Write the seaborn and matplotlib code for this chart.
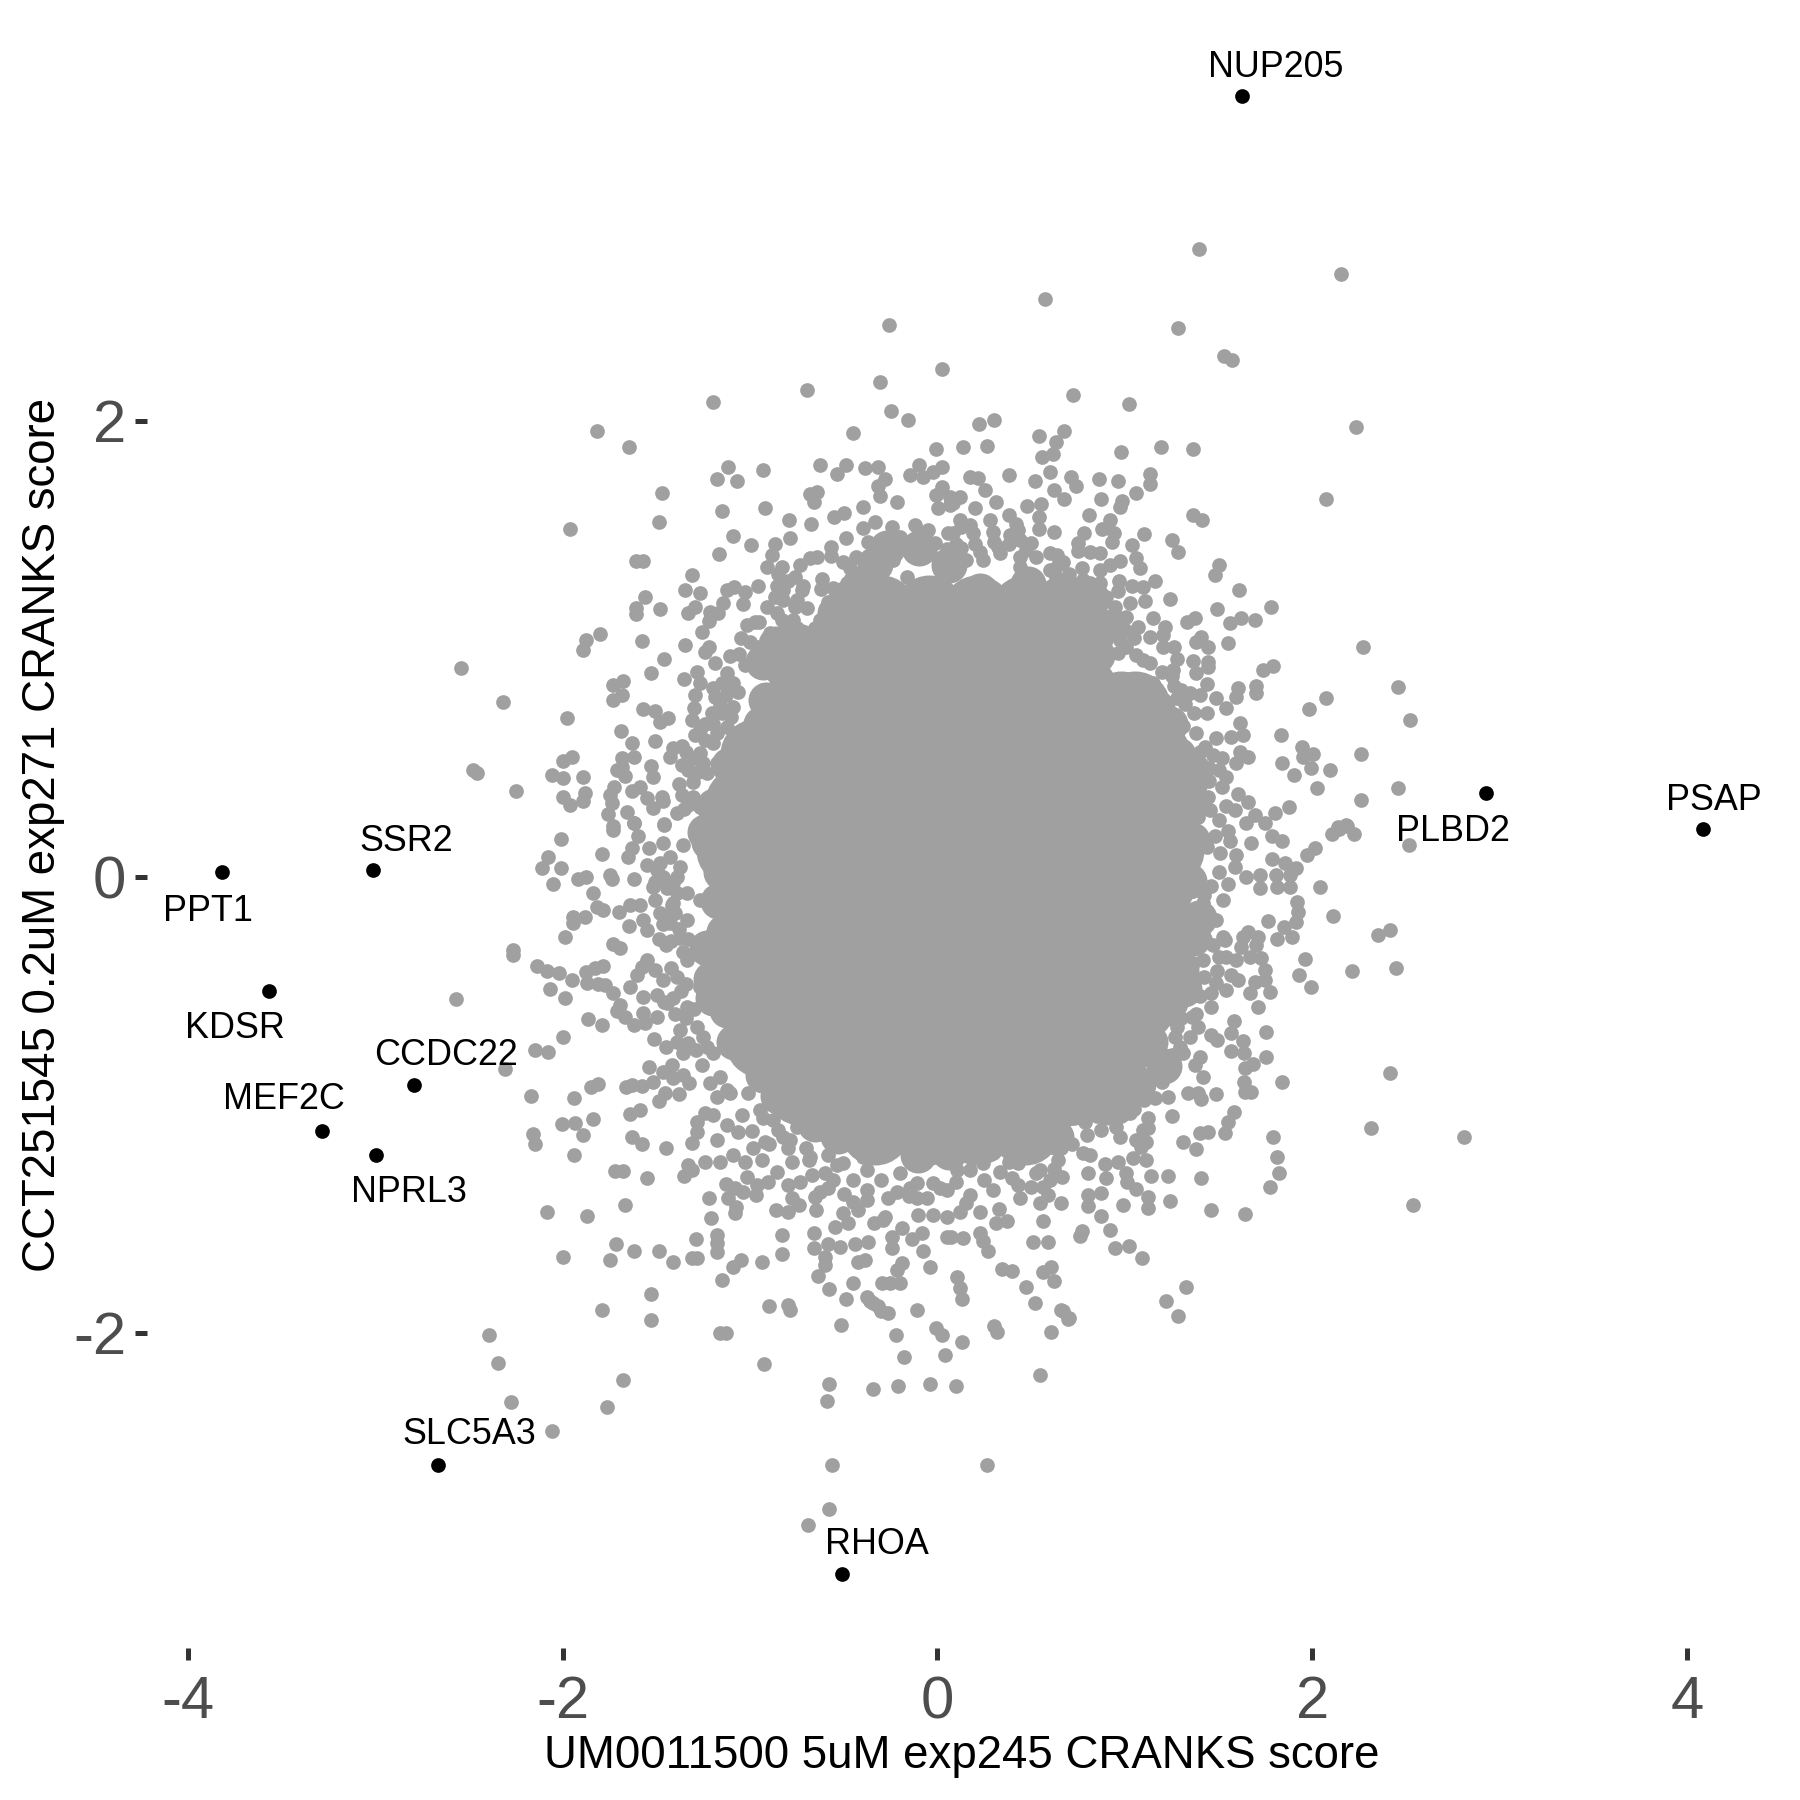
"""Scatter of CRANKS scores for two compounds, with the outlier genes labelled."""

import matplotlib
matplotlib.use("Agg")

import matplotlib.pyplot as plt
import pandas as pd
import seaborn as sns

# labelled genes
gene_names = ["NUP205", "PSAP", "PLBD2", "SSR2", "PPT1", "KDSR", "CCDC22", "MEF2C", "NPRL3", "SLC5A3", "RHOA"]
gene_x = [1.623, 4.086, 2.928, -3.014, -3.816, -3.565, -2.793, -3.283, -2.995, -2.665, -0.508]
gene_y = [3.426, 0.212, 0.368, 0.030, 0.020, -0.499, -0.912, -1.113, -1.219, -2.579, -3.058]
label_x = [1.807, 4.141, 2.749, -2.836, -3.895, -3.750, -2.620, -3.485, -2.818, -2.498, -0.325]
label_y = [3.551, 0.337, 0.201, 0.155, -0.152, -0.666, -0.782, -0.978, -1.386, -2.444, -2.928]

# grey points read one by one, by quadrant of the cloud
upper_left = [
    (-1.818,1.956),(-1.647,1.885),(-1.197,2.085),(-0.698,2.136),(-0.308,2.173),(-0.247,2.045),(-0.157,2.006),
    (-0.448,1.946),(-0.007,1.876),(-1.117,1.797),(-1.178,1.747),(-1.069,1.736),(-0.929,1.785),(-0.626,1.806),
    (-0.537,1.766),(-0.488,1.807),(-0.388,1.795),(-0.315,1.797),(-0.280,1.746),(-0.319,1.715),(-0.308,1.673),
    (-0.217,1.646),(-1.468,1.686),(-1.487,1.556),(-1.959,1.526),(-1.148,1.607),(-0.918,1.617),(-0.790,1.567),
    (-0.680,1.680),(-0.644,1.690),(-0.658,1.643),(-0.676,1.547),(-0.786,1.487),(-0.550,1.578),(-0.497,1.598),
    (-0.397,1.624),(-0.488,1.487),(-1.089,1.497),(-0.996,1.456),(-1.167,1.417),(-0.868,1.459),(-0.884,1.412),
    (-0.911,1.361),(-1.608,1.386),(-1.573,1.386),(-1.308,1.326),(-1.347,1.257),(-1.269,1.247),(-1.558,1.227),
    (-1.478,1.177),(-1.608,1.179),(-1.608,1.152),(-1.293,1.186),(-1.329,1.157),(-1.213,1.164),(-1.169,1.157),
    (-1.217,1.124),(-1.258,1.076),(-1.124,1.259),(-1.085,1.271),(-1.027,1.249),(-1.142,1.203),(-1.039,1.198),
    (-0.955,1.278),(-1.018,1.105),(-0.973,1.120),(-0.733,1.369),(-0.680,1.398),(-0.644,1.405),(-0.568,1.449),
    (-0.568,1.408),(-0.505,1.383),(-0.434,1.405),(-0.618,1.306),(-0.621,1.263),(-0.760,1.317),(-0.724,1.259),
    (-0.760,1.186),(-0.698,1.179),(-1.877,1.040),(-1.799,1.066),(-1.889,0.996),(-1.578,1.037),(-1.347,1.016),
    (-1.221,1.007),(-1.240,0.988),(-1.459,0.956),(-1.526,0.896),(-1.676,0.860),(-1.729,0.842),(-1.685,0.798),
    (-1.729,0.776),(-2.320,0.769),(-1.352,0.867),(-1.285,0.901),(-1.267,0.850),(-1.187,0.940),(-1.107,0.969),
    (-1.057,0.978),(-1.027,0.930),(-1.124,0.893),(-1.089,0.850),(-1.062,0.813),(-1.293,0.798),(-1.187,0.788),
    (-1.299,0.740),(-1.160,0.755),(-1.204,0.718),(-1.569,0.737),(-1.507,0.730),(-1.436,0.696),(-1.480,0.681),
    (-1.978,0.697),(-1.688,0.639),(-1.628,0.586),(-1.507,0.598),(-1.311,0.689),(-1.267,0.645),(-1.293,0.623),
    (-1.196,0.586),(-1.107,0.579),(-1.409,0.564),(-1.365,0.575),(-1.427,0.525),(-1.617,0.528),(-1.685,0.521),
    (-1.948,0.528),(-1.999,0.509),(-1.528,0.488),(-1.365,0.491),(-1.685,0.484),(-1.711,0.467),(-1.667,0.443),
    (-2.058,0.446),(-1.996,0.433),(-1.889,0.437),(-1.518,0.437),(-1.379,0.408),(-1.302,0.418),(-2.249,0.377),
    (-1.726,0.393),(-1.747,0.360),(-1.738,0.323),(-1.628,0.379),(-1.587,0.396),(-1.880,0.370),(-1.889,0.331),
    (-1.999,0.350),(-1.960,0.316),(-1.551,0.345),(-1.471,0.350),(-1.516,0.301),(-1.466,0.331),(-1.365,0.360),
    (-1.329,0.316),(-1.391,0.280),(-1.759,0.276),(-1.658,0.287),(-1.619,0.238),(-1.729,0.224),(-1.459,0.233),
    (-0.333,1.559),(-0.244,1.537),(-0.120,1.544),(-0.395,1.529),(-0.368,1.471),(-0.075,1.500),(-0.013,1.464),
    (0.058,1.507),(-0.146,1.763),(-0.096,1.807),(-0.078,1.756),(-0.022,1.778),(0.023,1.800),(0.026,1.712),
    (-0.007,1.676),(0.001,1.617),(0.067,1.632),(-0.466,1.354),(-0.484,1.288),(-0.555,1.266),(-0.582,1.208),
    (-0.751,1.091),(-0.867,1.230),(-0.822,1.259),(-0.395,1.244),(-0.377,1.186),(-0.831,1.127),(-0.893,1.069),
    (-0.653,1.091),(-0.502,1.127),
]
upper_right = [
    (0.722,2.116),(1.023,2.076),(0.223,1.986),(0.303,2.005),(2.232,1.975),(0.134,1.885),(0.262,1.892),(0.541,1.936),
    (0.673,1.956),(0.632,1.907),(0.617,1.855),(0.560,1.844),(0.982,1.866),(1.192,1.885),(1.363,1.876),(0.383,1.765),
    (0.521,1.736),(0.601,1.775),(0.712,1.756),(0.742,1.715),(0.861,1.746),(0.961,1.736),(1.133,1.766),(1.133,1.724),
    (1.062,1.686),(0.621,1.698),(0.673,1.657),(0.872,1.657),(0.987,1.649),(0.973,1.624),(2.072,1.657),(0.480,1.627),
    (0.552,1.636),(0.541,1.578),(0.541,1.526),(0.621,1.515),(0.811,1.586),(0.923,1.566),(0.879,1.525),(0.941,1.510),
    (0.930,1.467),(0.783,1.507),(0.751,1.464),(0.751,1.431),(0.813,1.427),(0.866,1.420),(1.103,1.506),(1.041,1.458),
    (1.062,1.401),(1.083,1.354),(1.363,1.588),(1.413,1.566),(1.252,1.477),(1.283,1.426),(1.503,1.370),(1.482,1.325),
    (1.612,1.257),(1.782,1.186),(1.493,1.177),(1.694,1.127),(1.622,1.138),(1.560,1.116),(1.373,1.138),(1.332,1.117),
    (1.240,1.217),(1.163,1.297),(1.098,1.271),(1.041,1.278),(0.970,1.298),(0.973,1.386),(0.920,1.369),(0.866,1.347),
    (0.774,1.354),(0.671,1.383),(0.639,1.410),(0.964,1.256),(1.110,1.212),(1.030,1.200),(0.950,1.186),(1.151,1.135),
    (1.213,1.098),(1.204,1.062),(1.009,1.142),(1.071,1.098),(1.409,1.054),(1.382,1.032),(1.445,1.007),(1.551,1.026),
    (2.273,1.007),(1.263,1.010),(1.276,0.955),(1.204,1.010),(1.363,0.949),(1.445,0.945),(1.445,0.920),(1.382,0.893),
    (1.258,0.908),(1.791,0.927),(1.740,0.908),(2.458,0.835),(0.973,1.040),(1.000,1.084),(0.964,0.981),(1.062,0.974),
    (1.133,0.937),(1.441,0.847),(1.261,0.839),(1.702,0.839),(1.702,0.809),(1.605,0.828),(1.596,0.791),(1.347,0.806),
    (1.400,0.798),(1.484,0.787),(2.072,0.787),(1.982,0.737),(1.281,0.784),(1.542,0.740),(1.436,0.718),(1.613,0.674),
    (1.631,0.623),(1.569,0.616),(1.489,0.608),(1.836,0.623),(1.943,0.569),(2.005,0.540),(1.841,0.499),(1.951,0.528),
    (1.996,0.477),(1.903,0.445),(2.094,0.468),(2.263,0.538),(2.023,0.388),(2.263,0.338),(2.458,0.389),(1.658,0.525),
    (1.613,0.550),(1.596,0.499),(1.516,0.521),(1.427,0.572),(1.471,0.535),(1.542,0.440),(1.516,0.396),(1.445,0.352),
    (1.605,0.364),(1.658,0.328),(1.542,0.313),(1.587,0.294),(1.875,0.309),(1.804,0.279),(1.694,0.272),(1.747,0.236),
    (1.649,0.236),(1.453,0.294),(1.391,0.265),(2.138,0.221),(2.183,0.228),(0.173,1.756),(0.217,1.749),(0.253,1.698),
    (0.315,1.646),(0.199,1.617),(0.279,1.566),(0.119,1.566),(0.173,1.544),(0.383,1.588),(0.297,1.515),(0.386,1.500),
    (0.431,1.522),(0.502,1.464),(0.324,1.449),(0.226,1.427),(0.128,1.442),(0.644,1.369),(0.689,1.295),(0.813,1.288),
    (0.751,1.230),(0.680,1.149),(0.866,1.127),(0.902,1.040),
]
lower_left = [
    (-2.008,0.168),(-2.076,0.089),(-2.108,0.038),(-2.008,0.038),(-2.049,-0.031),(-1.788,0.099),(-1.729,0.206),
    (-1.617,0.235),(-1.459,0.228),(-1.599,0.180),(-1.631,0.126),(-1.653,0.086),(-1.537,0.126),(-1.462,0.148),
    (-1.356,0.140),(-1.747,0.009),(-1.738,-0.010),(-1.916,-0.010),(-1.875,0.001),(-1.617,-0.010),(-1.551,0.053),
    (-1.427,0.089),(-1.373,0.045),(-1.409,-0.028),(-1.516,-0.042),(-1.836,-0.072),(-1.818,-0.130),(-1.783,-0.145),
    (-1.699,-0.152),(-1.640,-0.123),(-1.587,-0.123),(-1.507,-0.101),(-1.418,-0.123),(-1.946,-0.174),(-1.880,-0.174),
    (-1.946,-0.203),(-1.647,-0.213),(-1.569,-0.189),(-1.551,-0.232),(-1.462,-0.206),(-1.987,-0.262),(-1.487,-0.272),
    (-1.373,-0.269),(-1.729,-0.294),(-1.694,-0.313),(-2.266,-0.320),(-2.266,-0.342),(-2.138,-0.390),(-2.085,-0.411),
    (-2.017,-0.423),(-1.948,-0.452),(-1.875,-0.415),(-1.827,-0.401),(-1.783,-0.389),(-1.868,-0.466),(-1.809,-0.469),
    (-1.774,-0.474),(-1.729,-0.510),(-2.067,-0.491),(-1.987,-0.531),(-1.694,-0.561),(-1.708,-0.586),(-1.667,-0.613),
    (-1.866,-0.621),(-1.788,-0.651),(-1.617,-0.649),(-1.551,-0.364),(-1.578,-0.393),(-1.507,-0.408),(-1.605,-0.430),
    (-1.640,-0.481),(-1.462,-0.452),(-1.569,-0.525),(-1.498,-0.518),(-1.445,-0.554),(-1.560,-0.642),(-1.498,-0.613),
    (-1.569,-0.598),(-1.996,-0.702),(-2.149,-0.759),(-2.076,-0.770),(-1.512,-0.709),(-1.450,-0.744),(-1.373,-0.671),
    (-1.391,-0.722),(-1.356,-0.773),(-1.258,-0.825),(-1.196,-0.773),(-1.537,-0.832),(-1.418,-0.825),(-1.462,-0.854),
    (-1.356,-0.868),(-1.325,-0.905),(-1.409,-0.883),(-1.516,-0.898),(-1.578,-0.915),(-1.631,-0.912),(-1.662,-0.920),
    (-1.379,-0.952),(-1.454,-0.949),(-1.487,-0.981),(-1.813,-0.909),(-1.850,-0.920),(-2.167,-0.961),(-1.939,-0.971),
    (-1.587,-1.022),(-1.640,-1.041),(-1.839,-1.061),(-2.001,-1.082),(-1.934,-1.080),(-1.889,-1.130),(-2.160,-1.127),
    (-2.149,-1.171),(-1.628,-1.139),(-1.578,-1.171),(-1.448,-1.190),(-1.939,-1.221),(-1.720,-1.288),(-1.676,-1.288),
    (-1.548,-1.320),(-2.085,-1.469),(-1.868,-1.488),(-1.667,-1.440),(-1.219,-1.408),(-1.208,-1.497),(-1.178,-1.570),
    (-1.178,-1.607),(-1.178,-1.643),(-1.290,-1.589),(-1.717,-1.608),(-1.617,-1.640),(-1.487,-1.639),(-1.409,-1.690),
    (-1.311,-1.670),(-1.281,-1.670),(-1.747,-1.680),(-1.998,-1.668),(-1.048,-1.680),(-1.089,-1.709),(-0.938,-1.690),
    (-1.148,-1.769),(-0.831,-1.570),(-0.831,-1.654),(-1.528,-1.829),(-1.788,-1.899),(-1.528,-1.943),(-0.897,-1.880),
    (-0.795,-1.877),(-0.786,-1.899),(-0.658,-1.560),(-0.658,-1.629),(-0.582,-1.610),(-0.520,-1.621),(-0.600,-1.665),
    (-0.600,-1.702),(-0.639,-1.749),(-0.577,-1.808),(-0.449,-1.779),(-0.488,-1.851),(-0.360,-1.860),(-0.315,-1.882),
    (-0.262,-1.911),(-0.297,-1.779),(-0.200,-1.779),(-0.107,-1.899),(-0.440,-1.610),(-0.369,-1.599),(-0.244,-1.629),
    (-0.386,-1.680),(-0.422,-1.691),(-0.191,-1.694),(-0.217,-1.724),(-0.137,-1.589),(-0.084,-1.560),(-0.075,-1.639),
    (-0.039,-1.709),(0.049,-1.578),(-0.025,-1.482),(-0.102,-1.482),(0.049,-1.490),(-0.191,-1.541),(-0.244,-1.578),
    (-0.338,-1.519),(-0.280,-1.490),(-0.546,-1.534),(-0.475,-1.519),(-0.505,-1.475),(-0.648,-1.461),(-0.653,-1.402),
    (-0.626,-1.380),(-0.582,-1.366),(-0.555,-1.329),(-0.497,-1.390),(-0.422,-1.461),(-0.377,-1.417),(-0.449,-1.424),
    (-0.262,-1.409),(-0.217,-1.380),(-0.146,-1.366),(-0.110,-1.409),(-0.057,-1.409),(0.014,-1.366),(-0.738,-1.441),
    (-0.795,-1.468),(-0.861,-1.461),(-0.778,-1.409),(-0.795,-1.351),(-0.733,-1.336),(-0.667,-1.307),(-0.683,-1.241),
    (-0.778,-1.249),(-0.858,-1.292),(-0.902,-1.336),(-0.964,-1.351),(-0.968,-1.395),(-1.035,-1.384),(-1.080,-1.366),
    (-1.128,-1.348),(-1.116,-1.409),(-1.076,-1.446),(-1.080,-1.472),(-1.018,-1.314),(-1.027,-1.249),(-0.938,-1.241),
    (-1.160,-1.249),(-1.240,-1.249),(-1.329,-1.263),(-1.311,-1.285),(-1.352,-1.311),(-1.308,-1.168),(-1.285,-1.117),
    (-1.285,-1.073),(-1.240,-1.037),(-1.196,-1.044),(-1.178,-1.153),(-1.124,-1.088),(-1.062,-1.117),(-0.991,-1.113),
    (-0.920,-1.161),(-0.982,-1.190),(-1.089,-1.219),(-0.822,-1.139),(-0.795,-1.190),(-0.929,-1.058),(-0.751,-1.095),
    (-1.041,-1.044),(-1.107,-0.949),(-1.009,-0.949),(-1.213,-0.905),(-1.178,-0.963),(-0.582,-1.219),(-0.537,-1.263),
    (-0.395,-1.227),
]
lower_right = [
    (2.103,0.189),(2.144,0.209),(2.186,0.224),(2.224,0.187),(2.014,0.129),(1.973,0.096),(1.916,0.038),(1.854,0.060),
    (1.788,0.077),(1.783,0.181),(1.839,0.158),(1.672,0.148),(1.560,0.159),(1.596,0.096),(1.507,0.104),(1.587,0.045),
    (1.649,0.001),(1.720,0.009),(1.809,0.009),(1.720,-0.050),(1.813,-0.042),(1.884,-0.042),(1.880,0.009),(2.044,-0.042),
    (1.921,-0.108),(1.925,-0.152),(1.916,-0.196),(2.113,-0.173),(1.763,-0.192),(1.850,-0.221),(1.894,-0.262),(1.813,-0.273),
    (2.352,-0.254),(2.414,-0.232),(1.658,-0.240),(1.711,-0.262),(1.631,-0.262),(1.702,-0.298),(1.622,-0.306),(1.729,-0.357),
    (1.667,-0.349),(1.596,-0.364),(1.542,-0.349),(1.533,-0.276),(1.964,-0.361),(1.932,-0.430),(1.992,-0.481),(2.213,-0.411),
    (2.449,-0.401),(1.747,-0.408),(1.747,-0.452),(1.694,-0.459),(1.774,-0.503),(1.667,-0.510),(1.711,-0.572),(1.605,-0.452),
    (1.569,-0.430),(1.493,-0.411),(1.489,-0.466),(1.542,-0.496),(1.462,-0.510),(1.462,-0.572),(1.581,-0.630),(1.569,-0.686),
    (1.752,-0.681),(1.462,-0.693),(1.494,-0.715),(1.631,-0.719),(1.564,-0.762),(1.635,-0.773),(1.752,-0.791),(1.685,-0.820),
    (1.640,-0.839),(1.418,-0.879),(1.635,-0.898),(1.640,-0.942),(1.676,-0.942),(1.841,-0.901),(2.414,-0.861),(1.484,-0.952),
    (1.400,-0.788),(1.373,-0.825),(1.361,-0.613),(1.391,-0.656),(1.276,-0.656),(1.293,-0.744),(1.391,-0.949),(1.409,-0.975),
    (1.338,-0.949),(1.231,-0.963),(1.160,-0.971),(1.583,-1.031),(1.551,-1.073),(1.533,-1.121),(1.445,-1.117),(1.400,-1.121),
    (1.252,-1.050),(1.124,-1.056),(1.124,-1.102),(1.311,-1.161),(1.382,-1.192),(1.791,-1.140),(1.813,-1.230),(1.823,-1.300),
    (1.774,-1.360),(2.313,-1.101),(1.404,-1.320),(1.233,-1.310),(1.142,-1.310),(1.009,-1.300),(1.012,-1.336),(0.902,-1.322),
    (0.893,-1.259),(0.961,-1.249),(0.804,-1.300),(0.777,-1.212),(0.813,-1.219),(1.044,-1.234),(1.115,-1.241),(1.089,-1.183),
    (1.115,-1.161),(1.062,-1.153),(0.973,-1.139),(1.098,-1.110),(1.026,-1.037),(0.955,-1.095),(0.875,-1.110),(0.786,-1.073),
    (0.724,-1.058),(0.902,-1.007),(1.062,-1.370),(1.124,-1.406),(1.124,-1.450),(1.240,-1.420),(1.462,-1.461),(1.644,-1.480),
    (0.991,-1.440),(0.872,-1.387),(0.801,-1.395),(0.801,-1.443),(0.662,-1.431),(0.667,-1.317),(0.872,-1.488),(0.920,-1.550),
    (0.772,-1.551),(0.760,-1.573),(0.950,-1.629),(1.023,-1.620),(1.092,-1.670),(0.562,-1.509),(0.511,-1.601),(0.592,-1.601),
    (0.608,-1.709),(0.564,-1.731),(0.621,-1.772),(0.342,-1.719),(0.400,-1.730),(0.472,-1.798),(0.523,-1.870),(0.662,-1.899),
    (0.703,-1.936),(1.324,-1.800),(1.222,-1.858),(1.283,-1.924),(0.102,-1.756),(0.119,-1.804),(0.132,-1.851),(0.315,-1.519),
    (0.372,-1.510),(0.271,-1.639),(0.226,-1.560),(0.134,-1.585),(0.075,-1.578),(0.244,-1.595),(0.329,-1.456),(0.226,-1.468),
    (0.119,-1.468),(0.297,-1.373),(0.173,-1.395),(0.440,-1.409),(0.546,-1.431),(0.591,-1.395),(0.528,-1.300),(0.431,-1.351),
    (0.333,-1.292),(0.244,-1.256),(0.431,-1.256),(0.644,-1.241),(0.662,-1.190),(0.680,-1.139),(0.324,-1.153),(0.475,-1.212),
    (0.564,-1.190),(0.102,-1.285),
]
# isolated points outside the crops above
stragglers = [
    (1.397,2.756),(2.156,2.645),(0.576,2.534),(-0.257,2.423),(1.286,2.408),(1.531,2.287),(1.574,2.267),(0.025,2.227),
    (-2.542,0.917),(-2.481,0.469),(-2.456,0.458),(-2.567,-0.534),(-2.309,-0.841),(-2.395,-2.010),(-2.346,-2.131),
    (-2.273,-2.302),(-2.058,-2.428),(-1.764,-2.327),(-1.678,-2.207),(2.524,0.690),(2.518,0.141),(2.812,-1.139),
    (2.536,-1.441),(-0.925,-2.136),(-1.127,-2.000),(-1.158,-2.000),(-0.576,-2.222),(-0.588,-2.297),(-0.343,-2.247),
    (-0.208,-2.232),(-0.037,-2.222),(0.098,-2.232),(-0.178,-2.106),(0.043,-2.096),(0.129,-2.040),(0.300,-1.970),
    (0.319,-1.995),(-0.006,-1.980),(0.025,-2.010),(-0.221,-2.010),(-0.515,-1.965),(-0.300,-1.904),(-0.374,-1.844),
    (-0.343,-1.869),(-0.251,-1.783),(0.545,-2.186),(0.698,-1.940),(0.668,-1.904),(0.606,-1.995),(-0.564,-2.579),
    (0.263,-2.579),(-0.576,-2.771),(-0.692,-2.841),
]
# overlapping points in the dense band just outside the solid centre
dense_band = [
    (-0.858,1.274),(-0.822,1.215),(-0.911,1.186),(-0.858,1.157),(-0.715,1.274),(-0.751,1.215),(-0.769,1.127),(-0.591,1.171),
    (-0.626,1.127),(-0.466,1.244),(-0.502,1.157),(-0.431,1.142),(-0.324,1.361),(-0.235,1.390),(-0.164,1.317),(-0.377,1.347),
    (-0.199,1.493),(-0.271,1.449),(-0.128,1.478),(-0.040,1.420),(0.032,1.390),(-0.288,1.274),(-0.110,1.274),(-0.964,1.010),
    (-0.964,0.908),(-0.929,0.820),(-1.089,0.747),(-1.124,0.659),(-1.018,0.659),(-1.178,0.630),(-1.267,0.543),(-1.178,0.499),
    (-1.231,0.455),(-1.302,0.352),(-1.267,0.309),(0.066,1.668),(0.119,1.668),(0.084,1.639),(0.128,1.537),(0.190,1.507),
    (0.084,1.507),(0.244,1.391),(0.155,1.391),(0.333,1.420),(0.440,1.478),(0.475,1.434),(0.528,1.405),(0.440,1.405),
    (0.440,1.361),(0.635,1.317),(0.600,1.347),(0.777,1.303),(0.866,1.288),(0.760,1.200),(0.831,1.171),(0.884,1.127),
    (0.991,1.127),(1.133,1.054),(1.098,0.952),(1.009,1.010),(1.204,0.776),(1.062,0.864),(1.311,0.660),(1.382,0.630),
    (1.311,0.572),(1.418,0.455),(1.347,0.455),(1.418,0.309),(1.276,0.279),(1.418,-0.115),(1.525,-0.101),(1.489,-0.189),
    (1.365,-0.203),(1.525,-0.262),(1.365,-0.379),(1.418,-0.364),(1.347,-0.466),(1.311,-0.539),(1.347,-0.700),(1.311,-0.773),
    (1.240,-0.861),(1.169,-0.876),(1.062,-0.920),(0.955,-0.978),(0.777,-1.022),(0.635,-1.139),(0.546,-1.285),(0.564,-1.358),
    (0.297,-1.212),(0.173,-1.285),(0.422,-1.183),(-1.480,0.060),(-1.391,0.001),(-1.338,-0.072),(-1.409,-0.115),(-1.267,-0.101),
    (-1.338,-0.189),(-1.427,-0.203),(-1.338,-0.364),(-1.391,-0.437),(-1.267,-0.481),(-1.338,-0.569),(-1.285,-0.656),
    (-1.231,-0.744),(-1.160,-0.876),(-1.124,-0.934),(-0.947,-1.022),(-0.875,-1.066),(-0.786,-1.153),(-0.680,-1.227),
    (-0.502,-1.256),(-0.377,-1.285),(-0.200,-1.300),(-0.377,-1.373),(-0.110,-1.344),(-0.022,-1.344),(0.049,-1.373),(-0.288,-1.504),
    (-1.498,0.031),(-1.462,0.000),(-1.507,-0.020),(-1.445,-0.050),(-1.391,-0.070),(-1.480,-0.160),(-1.445,-0.170),(-1.400,-0.160),
    (-1.380,-0.230),(-1.420,-0.280),(-1.450,-0.300),(-1.330,-0.270),(-1.360,-0.330),(-1.420,-0.400),(-1.460,-0.550),(-1.410,-0.530),
    (-1.370,-0.500),(-1.340,-0.470),(-1.400,-0.600),(-1.340,-0.620),(-1.300,-0.580),(-1.330,-0.730),(-1.290,-0.760),(-1.250,-0.700),
    (-1.200,0.830),(-1.150,0.850),(-1.130,0.800),(-1.240,0.670),(-1.200,0.670),(-1.240,0.600),(-1.150,0.720),(-1.100,0.700),
    (-1.340,0.550),(-1.300,0.520),(-1.250,0.500),(-1.330,0.470),(-1.280,0.460),(-1.350,0.300),(-1.050,1.050),(-1.000,1.030),
    (-0.950,1.120),(-0.850,1.330),(-0.800,1.300),(-0.830,1.360),(1.250,0.880),(1.300,0.820),(1.200,0.900),(1.150,0.850),
    (1.320,0.760),(1.370,0.720),(1.400,0.550),(1.380,0.500),(1.450,0.480),(1.500,0.470),(1.450,0.420),(1.400,0.400),
    (1.350,0.380),(1.500,0.250),(1.550,0.200),(1.480,0.180),(1.440,0.130),(1.500,0.020),(1.550,-0.030),(1.460,-0.040),
    (1.420,-0.080),(1.470,-0.300),(1.430,-0.270),(1.500,-0.350),(1.420,-0.440),(1.400,-0.520),(1.380,-0.600),(1.300,-0.620),
    (1.270,-0.700),(1.250,-0.780),(1.200,-0.900),(1.100,-0.980),(1.050,-1.020),(0.980,-1.050),(0.850,-1.050),(0.800,-1.130),
    (0.720,-1.170),(0.620,-1.280),(0.600,-1.330),(0.500,-1.360),(0.400,-1.320),(0.380,-1.250),(0.300,1.470),(0.380,1.460),
    (0.420,1.550),(0.200,1.460),(0.100,1.460),(0.050,1.440),(-0.050,1.520),(0.600,1.420),(0.700,1.330),(0.900,1.230),
    (0.950,1.150),(1.050,1.050),(-0.850,-1.110),(-0.900,-1.170),(-0.700,-1.190),(-0.600,-1.300),(-0.450,-1.330),(-0.300,-1.330),
    (-0.150,-1.400),(0.100,-1.340),(0.250,-1.330),(0.150,-1.430),
]

# merged centre of the cloud: single points can't be read here, so wide dots cover its area row by row
core_rows = [1.171, 0.961, 0.750, 0.539, 0.329, 0.118, -0.092, -0.303, -0.513, -0.724, -0.934, -1.110]
core_cols = [
    [-0.413, -0.301, -0.045, 0.211, 0.467, 0.680],
    [-0.760, -0.557, -0.301, -0.045, 0.211, 0.467, 0.680],
    [-0.760, -0.557, -0.301, -0.045, 0.211, 0.467, 0.723, 0.979, 1.055],
    [-0.974, -0.813, -0.557, -0.301, -0.045, 0.211, 0.467, 0.723, 0.979, 1.160],
    [-1.053, -0.813, -0.557, -0.301, -0.045, 0.211, 0.467, 0.723, 0.979, 1.235],
    [-1.100, -0.813, -0.557, -0.301, -0.045, 0.211, 0.467, 0.723, 0.979, 1.235],
    [-1.027, -0.813, -0.557, -0.301, -0.045, 0.211, 0.467, 0.723, 0.979, 1.160],
    [-1.069, -0.813, -0.557, -0.301, -0.045, 0.211, 0.467, 0.723, 0.979, 1.190],
    [-1.060, -0.813, -0.557, -0.301, -0.045, 0.211, 0.467, 0.723, 0.979, 1.160],
    [-0.947, -0.813, -0.557, -0.301, -0.045, 0.211, 0.467, 0.723, 0.979],
    [-0.734, -0.557, -0.301, -0.045, 0.211, 0.467, 0.723, 0.921],
    [-0.333, -0.045, 0.211, 0.467],
]
# medium dots tracing the outline of the solid centre
core_edge = [
    (-1.240,0.197),(-1.192,0.311),(-1.112,0.491),(-0.973,0.557),(-0.941,0.671),(-0.915,0.776),(-0.930,0.943),(-0.861,1.022),
    (-0.744,1.022),(-0.594,1.057),(-0.546,1.158),(-0.445,1.232),(-0.413,1.285),(-0.333,1.373),(-0.269,1.443),(-0.098,1.443),
    (0.062,1.368),(0.227,1.254),(0.483,1.285),(0.649,1.206),(0.825,1.219),(0.884,1.096),(0.852,0.974),(0.846,0.864),
    (1.103,0.811),(1.172,0.741),(1.241,0.671),(1.284,0.535),(1.364,0.465),(1.359,0.329),(1.306,0.193),(1.359,0.162),
    (1.343,-0.018),(1.268,-0.066),(1.396,-0.180),(1.364,-0.268),(1.300,-0.408),(1.316,-0.491),(1.151,-0.614),(1.135,-0.724),
    (1.209,-0.829),(1.070,-0.908),(0.814,-0.925),(0.649,-1.031),(0.633,-1.140),(0.281,-1.132),(0.163,-1.132),(0.062,-1.118),
    (0.062,-1.206),(-0.104,-1.219),(-0.354,-1.132),(-0.530,-1.136),(-0.653,-1.083),(-0.653,-1.004),(-0.851,-0.961),
    (-0.931,-0.868),(-0.984,-0.785),(-1.085,-0.724),(-1.122,-0.583),(-1.200,-0.531),(-1.210,-0.447),(-1.230,-0.311),
    (-1.139,-0.241),(-1.171,-0.105),(-1.155,0.022),(-1.220,0.154),
]

x_ticks = [-4, -2, 0, 2, 4]
y_ticks = [-2, 0, 2]
x_title = "UM0011500 5uM exp245 CRANKS score"
y_title = "CCT251545 0.2uM exp271 CRANKS score"
GREY = "#A0A0A0"

sns.set_theme(style="white")
plt.rcParams["font.family"] = ["Liberation Sans", "DejaVu Sans"]

grey_df = pd.DataFrame(
    upper_left + upper_right + lower_left + lower_right + stragglers + dense_band,
    columns=["x", "y"],
)
core_df = pd.DataFrame(
    [(x, y) for y, row in zip(core_rows, core_cols) for x in row],
    columns=["x", "y"],
)
edge_df = pd.DataFrame(core_edge, columns=["x", "y"])
gene_df = pd.DataFrame({"x": gene_x, "y": gene_y})

fig = plt.figure(figsize=(18, 18), dpi=100)
ax = fig.add_axes([147 / 1800, 1 - 1648 / 1800, 1629 / 1800, 1626 / 1800])

sns.scatterplot(data=core_df, x="x", y="y", s=2540, color=GREY, linewidth=0, ax=ax)
sns.scatterplot(data=edge_df, x="x", y="y", s=672, color=GREY, linewidth=0, ax=ax)
sns.scatterplot(data=grey_df, x="x", y="y", s=112, color=GREY, linewidth=0, ax=ax)
sns.scatterplot(data=gene_df, x="x", y="y", s=112, color="black", linewidth=0, ax=ax)

for name, lx, ly in zip(gene_names, label_x, label_y):
    ax.text(lx, ly, name, fontsize=25.8, color="black", ha="center", va="center")

ax.set_xlim(-4.218, 4.475)
ax.set_ylim(-3.382, 3.75)
ax.set_xticks(x_ticks, [str(v) for v in x_ticks])
ax.set_yticks(y_ticks, [str(v) for v in y_ticks])
ax.tick_params(axis="both", length=8.6, width=3.6, color="#333333", labelcolor="#4D4D4D", labelsize=43,
               bottom=True, left=True)
ax.tick_params(axis="x", pad=11)
ax.tick_params(axis="y", pad=6.5)
sns.despine(ax=ax, left=True, bottom=True)

ax.set_xlabel(x_title, fontsize=32.9, color="black", va="center")
ax.set_ylabel(y_title, fontsize=32.9, color="black", va="center")
ax.xaxis.set_label_coords(0.5, -0.0667)
ax.yaxis.set_label_coords(-0.0636, 0.5)

fig.savefig("out.png", dpi=100, facecolor="white")
